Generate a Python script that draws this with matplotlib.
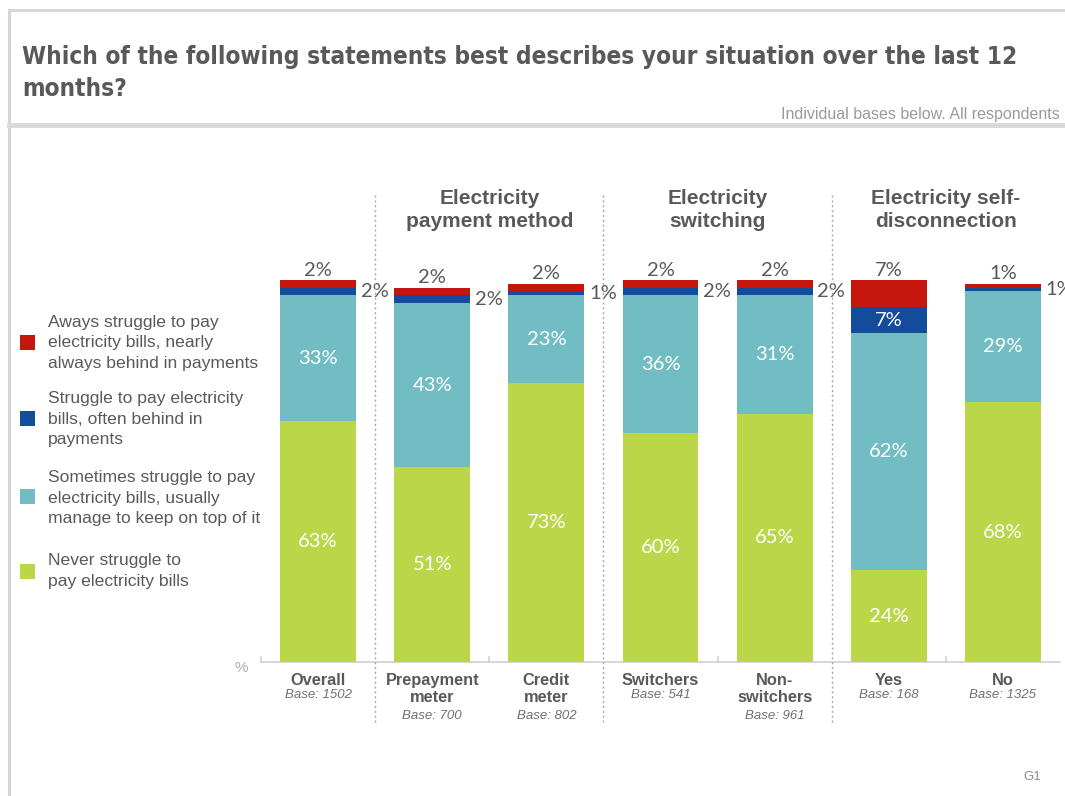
import matplotlib.pyplot as plt
from matplotlib.patches import Rectangle
from matplotlib.lines import Line2D

# ---- data -------------------------------------------------------------
categories = ["Overall", "Prepayment\nmeter", "Credit\nmeter", "Switchers",
              "Non-\nswitchers", "Yes", "No"]
bases = ["Base: 1502", "Base: 700", "Base: 802", "Base: 541",
         "Base: 961", "Base: 168", "Base: 1325"]
never = [63, 51, 73, 60, 65, 24, 68]
sometimes = [33, 43, 23, 36, 31, 62, 29]
often = [2, 2, 1, 2, 2, 7, 1]
always = [2, 2, 2, 2, 2, 7, 1]
groups = ["Electricity\npayment method", "Electricity\nswitching",
          "Electricity self-\ndisconnection"]
legend_labels = [
    "Aways struggle to pay\nelectricity bills, nearly\nalways behind in payments",
    "Struggle to pay electricity\nbills, often behind in\npayments",
    "Sometimes struggle to pay\nelectricity bills, usually\nmanage to keep on top of it",
    "Never struggle to\npay electricity bills",
]

C_RED = "#C4160C"
C_BLUE = "#144C9C"
C_TEAL = "#72BCC4"
C_GREEN = "#BCD64A"
TXT = "#595959"
LABEL_FONT = ["Lato", "DejaVu Sans"]

W, H = 1065, 796
fig = plt.figure(figsize=(W / 100, H / 100), dpi=100)


def fx(x):
    return x / W


def fy(y):
    return 1 - y / H


# ---- slide frame ------------------------------------------------------
fig.add_artist(Line2D([fx(9), fx(9)], [fy(10), 0], color="#D6D6D6", lw=2.2))
fig.add_artist(Line2D([fx(9), 1], [fy(10), fy(10)], color="#D6D6D6", lw=2.0))
fig.add_artist(Line2D([fx(9), 1], [fy(125), fy(125)], color="#D9D9D9", lw=3.5))

fig.text(fx(22), fy(57), "Which of the following statements best describes your situation over the last 12",
         fontsize=17.5, fontweight="bold", color=TXT, va="center", ha="left",
         family="DejaVu Sans", fontstretch="condensed")
fig.text(fx(22), fy(89), "months?", fontsize=17.5, fontweight="bold", color=TXT,
         va="center", ha="left", family="DejaVu Sans", fontstretch="condensed")
fig.text(fx(1060), fy(114), "Individual bases below. All respondents",
         fontsize=11.5, color="#9A9A9A", ha="right", va="center",
         family="Liberation Sans")
fig.text(fx(1032), fy(777), "G1", fontsize=9.5, color="#8C8C8C",
         ha="center", va="center", family="Liberation Sans")

# ---- bars -------------------------------------------------------------
ax = fig.add_axes([fx(261), fy(662), (1060 - 261) / W, (662 - 280) / H])
ax.set_xlim(-0.5, 6.5)
ax.set_ylim(0, 100)
ax.axis("off")

xs = list(range(len(categories)))
bw = 0.665
series = [(never, C_GREEN), (sometimes, C_TEAL), (often, C_BLUE), (always, C_RED)]
bottom = [0] * len(xs)
for vals, col in series:
    ax.bar(xs, vals, bw, bottom=bottom, color=col, edgecolor="none", zorder=2)
    for i, v in enumerate(vals):
        yc = bottom[i] + v / 2
        if col == C_RED:
            ax.annotate(f"{v}%", (i, bottom[i] + v), xytext=(0, 1),
                        textcoords="offset points", ha="center", va="bottom",
                        fontsize=14.5, color=TXT, family=LABEL_FONT,
                        annotation_clip=False)
        elif v >= 5:
            ax.text(i, yc, f"{v}%", ha="center", va="center", fontsize=14.5,
                    color="white", family=LABEL_FONT, zorder=3)
        else:
            ax.text(i + bw / 2 + 0.04, yc, f"{v}%", ha="left", va="center",
                    fontsize=14.5, color=TXT, family=LABEL_FONT, clip_on=False)
    bottom = [b + v for b, v in zip(bottom, vals)]

# baseline and small category ticks
ax.plot([-0.5, 6.5], [0, 0], color="#D0D0D0", lw=1.2, clip_on=False, zorder=1)
for t in [-0.5, 1.5, 3.5, 5.5]:
    ax.plot([t, t], [0, 1.2], color="#D0D0D0", lw=1.2, clip_on=False)
fig.text(fx(241), fy(668), "%", fontsize=11, color="#B0B0B0",
         ha="center", va="center", family="Liberation Sans")

# dotted group separators
for sx in [0.5, 2.5, 4.5]:
    xf = fx(261) + (sx + 0.5) / 7 * (1060 - 261) / W
    fig.add_artist(Line2D([xf, xf], [fy(195), fy(722)], color="#A8A8A8",
                          lw=1.0, ls=(0, (1.5, 2))))

# group headers
for g, cx in zip(groups, [1.5, 3.5, 5.5]):
    xf = fx(261) + (cx + 0.5) / 7 * (1060 - 261) / W
    fig.text(xf, fy(210), g, ha="center", va="center", fontsize=15,
             fontweight="bold", color=TXT, family="Liberation Sans",
             linespacing=1.32)

# category labels
for i, (c, b) in enumerate(zip(categories, bases)):
    xf = fx(261) + (i + 0.5) / 7 * (1060 - 261) / W
    fig.text(xf, fy(673), c, ha="center", va="top", fontsize=11.8,
             fontweight="bold", color=TXT, family="Liberation Sans",
             linespacing=1.2)
    nlines = c.count("\n") + 1
    yb = 695 if nlines == 1 else 716
    fig.text(xf, fy(yb), b, ha="center", va="center", fontsize=9.5,
             style="italic", color="#707070", family="Liberation Sans")

# ---- legend -----------------------------------------------------------
leg_cols = [C_RED, C_BLUE, C_TEAL, C_GREEN]
leg_sq_y = [342, 418, 497, 571]
leg_txt_y = [343, 419, 498, 571]
for col, sy, ty, lab in zip(leg_cols, leg_sq_y, leg_txt_y, legend_labels):
    fig.add_artist(Rectangle((fx(20), fy(sy + 7.5)), 15 / W, 15 / H,
                             facecolor=col, edgecolor="none"))
    fig.text(fx(48), fy(ty), lab, ha="left", va="center", fontsize=12.6,
             color=TXT, family="Liberation Sans", linespacing=1.45)

fig.savefig("out.png", dpi=100, facecolor="white")
